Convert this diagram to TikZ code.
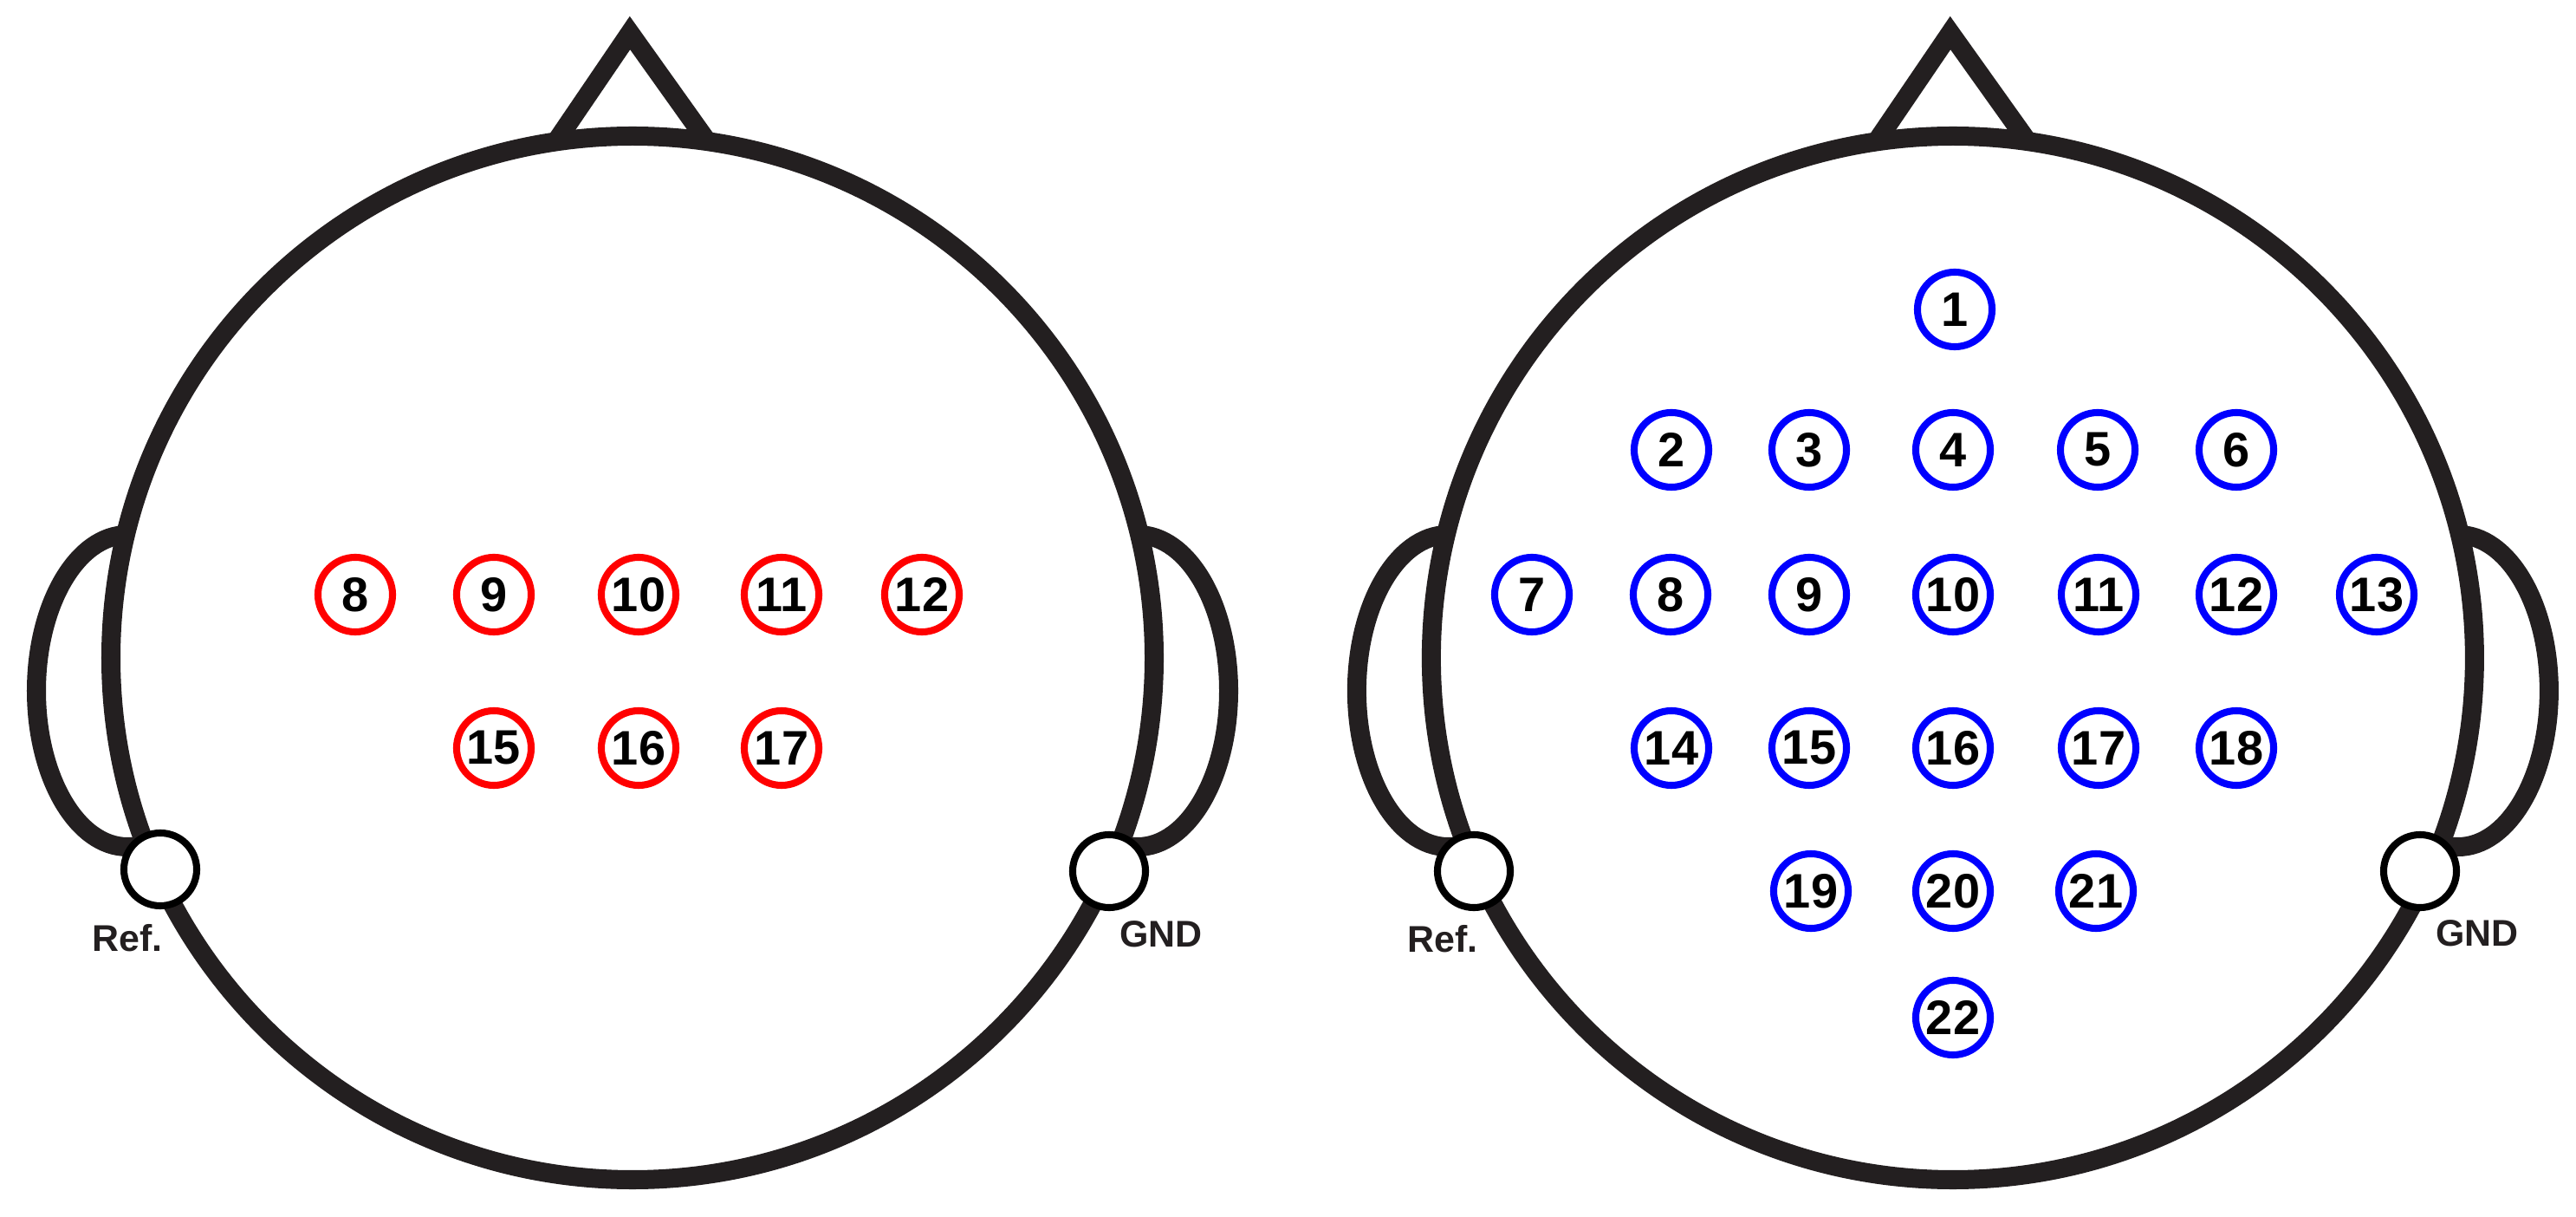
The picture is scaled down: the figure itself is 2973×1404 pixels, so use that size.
\documentclass[tikz,border=0pt]{standalone}
\usepackage{fontspec}
\setmainfont{Liberation Sans}
\usetikzlibrary{shapes}
\definecolor{headgray}{HTML}{231F20}
\definecolor{elecred}{HTML}{FF0000}
\definecolor{elecblue}{HTML}{0000FF}
\tikzstyle{outline}=[draw=headgray,line width=6.26pt]
\tikzstyle{elec}=[circle,fill=white,line width=2.3pt,minimum size=0.86cm,inner sep=0pt,font=\fontsize{15.9}{16}\selectfont\bfseries]
\tikzstyle{elred}=[elec,draw=elecred]
\tikzstyle{elblue}=[elec,draw=elecblue]
\tikzstyle{clip}=[circle,draw=black,fill=white,line width=2.3pt,minimum size=0.84cm,inner sep=0pt]
\tikzstyle{lbl}=[text=headgray,inner sep=0pt,font=\fontsize{12.2}{13}\selectfont\bfseries]
% head, ears and nose of one head (left head coordinates)
\newcommand{\headshape}{%
\draw[outline] (730,759) circle[radius=602];
\draw[outline] (170,977) -- (147,977) arc[start angle=90,end angle=270,x radius=105,y radius=180];
\draw[outline] (1313,617) arc[start angle=-90,end angle=90,x radius=105,y radius=180] -- (1290,977);
\draw[outline,line join=miter] (644,160) -- (727,38) -- (814,160);
}

\begin{document}
\begin{tikzpicture}[x=0.01cm,y=-0.01cm]
\useasboundingbox (0,0) rectangle (2973,1404);
\headshape
\begin{scope}[xshift=15.23cm]
\headshape
\end{scope}
% left head
\node[clip] (refL) at (185,1003) {};
\node[clip] (gndL) at (1280,1005) {};
\node[lbl] (refLtxt) at (147,1082) {Ref.};
\node[lbl] (gndLtxt) at (1340,1078) {GND};
\node[elred] (l8) at (410,686) {8};
\node[elred] (l9) at (570,686) {9};
\node[elred] (l10) at (737,686) {10};
\node[elred] (l11) at (902,686) {11};
\node[elred] (l12) at (1064,686) {12};
\node[elred] (l15) at (570,863) {15};
\node[elred] (l16) at (737,863) {16};
\node[elred] (l17) at (902,863) {17};
% right head
\node[clip] (refR) at (1701,1005) {};
\node[clip] (gndR) at (2793,1005) {};
\node[lbl] (refRtxt) at (1665,1083) {Ref.};
\node[lbl] (gndRtxt) at (2859,1077) {GND};
\node[elblue] (r1) at (2256,357) {1};
\node[elblue] (r2) at (1929,519) {2};
\node[elblue] (r3) at (2088,519) {3};
\node[elblue] (r4) at (2254,519) {4};
\node[elblue] (r5) at (2421,519) {5};
\node[elblue] (r6) at (2581,519) {6};
\node[elblue] (r7) at (1768,686) {7};
\node[elblue] (r8) at (1928,686) {8};
\node[elblue] (r9) at (2088,686) {9};
\node[elblue] (r10) at (2254,686) {10};
\node[elblue] (r11) at (2422,686) {11};
\node[elblue] (r12) at (2581,686) {12};
\node[elblue] (r13) at (2743,686) {13};
\node[elblue] (r14) at (1929,863) {14};
\node[elblue] (r15) at (2088,863) {15};
\node[elblue] (r16) at (2254,863) {16};
\node[elblue] (r17) at (2422,863) {17};
\node[elblue] (r18) at (2581,863) {18};
\node[elblue] (r19) at (2090,1028) {19};
\node[elblue] (r20) at (2254,1028) {20};
\node[elblue] (r21) at (2419,1028) {21};
\node[elblue] (r22) at (2254,1174) {22};
\end{tikzpicture}
\end{document}
